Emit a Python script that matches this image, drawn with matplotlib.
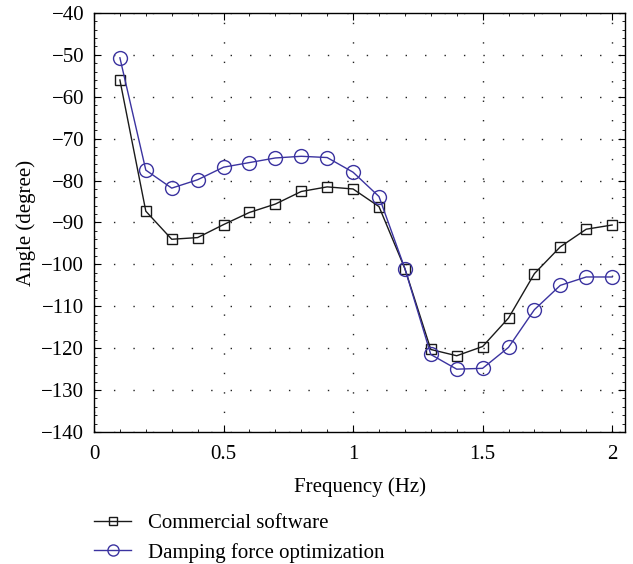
import matplotlib
matplotlib.use("Agg")
import matplotlib.pyplot as plt
from matplotlib.ticker import AutoMinorLocator

plt.rcParams['font.family'] = ['Liberation Serif', 'DejaVu Serif']

freq = [0.1, 0.2, 0.3, 0.4, 0.5, 0.6, 0.7, 0.8, 0.9, 1.0,
        1.1, 1.2, 1.3, 1.4, 1.5, 1.6, 1.7, 1.8, 1.9, 2.0]
commercial = [-56.0, -87.3, -94.0, -93.6, -90.5, -87.6, -85.6, -82.6, -81.5, -82.0,
              -86.2, -101.0, -120.3, -121.8, -119.6, -112.8, -102.2, -95.8, -91.6, -90.6]
damping = [-50.7, -77.5, -81.8, -79.8, -76.8, -75.7, -74.6, -74.2, -74.5, -78.0,
           -83.8, -101.0, -121.5, -125.0, -124.8, -119.8, -110.8, -105.0, -103.0, -103.0]

fig = plt.figure(figsize=(6.33, 5.64), dpi=100)
ax = fig.add_axes([0.1485, 0.234, 0.839, 0.743])

ax.plot(freq, commercial, color='#1a1a1a', lw=1.0, marker='s', ms=7,
        mfc='none', mec='#1a1a1a', mew=1.0, label='Commercial software')
ax.plot(freq, damping, color='#3b33a0', lw=1.0, marker='o', ms=10,
        mfc='none', mec='#3b33a0', mew=1.0, label='Damping force optimization')

ax.set_xlim(0, 2.05)
ax.set_ylim(-140, -40)
ax.set_xticks([0, 0.5, 1, 1.5, 2])
ax.set_xticklabels(['0', '0.5', '1', '1.5', '2'])
ax.set_yticks(range(-140, -39, 10))
ax.xaxis.set_minor_locator(AutoMinorLocator(5))
ax.yaxis.set_minor_locator(AutoMinorLocator(5))
ax.tick_params(which='both', direction='in', top=True, right=True, labelsize=15)
ax.tick_params(axis='x', which='major', pad=9)
ax.tick_params(axis='y', which='major', pad=7)
ax.tick_params(which='major', length=5)
ax.tick_params(which='minor', length=2.5)
ax.grid(True, which='major', linestyle=(0, (1, 13)), color='#222222', lw=1.0)
for s in ax.spines.values():
    s.set_linewidth(1.0)

ax.set_xlabel('Frequency (Hz)', fontsize=15, labelpad=10)
ax.set_ylabel('Angle (degree)', fontsize=15, labelpad=4)

fig.legend(loc='upper left', bbox_to_anchor=(0.135, 0.104), frameon=False,
           fontsize=15, handlelength=1.8, labelspacing=0.45, borderaxespad=0,
           markerscale=0.8)

fig.savefig('out.png', dpi=100)
